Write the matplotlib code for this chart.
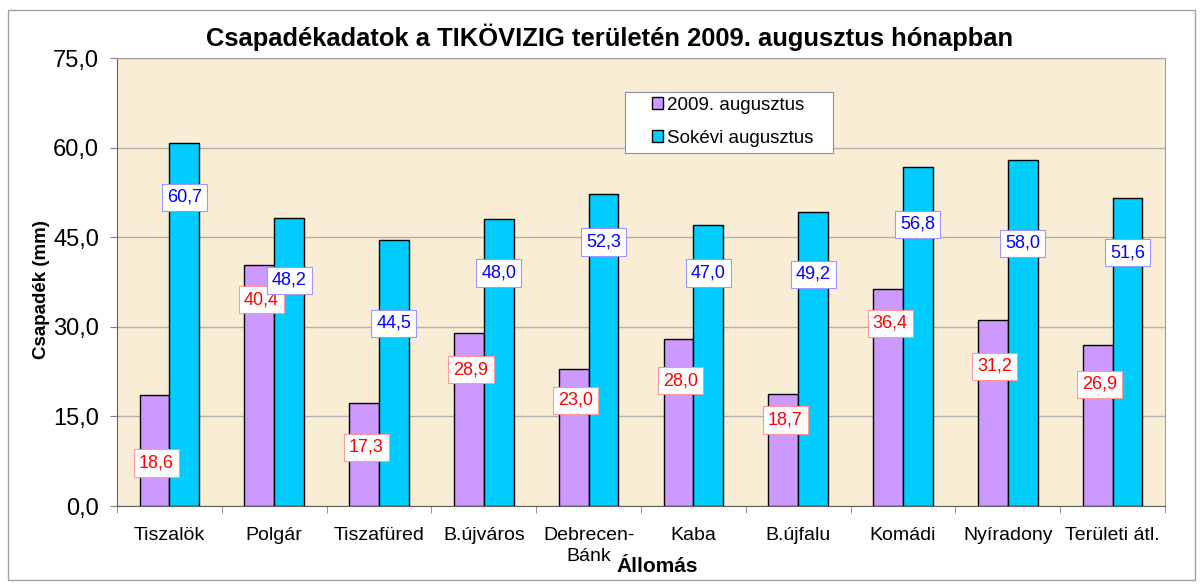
import matplotlib.pyplot as plt
import numpy as np
from matplotlib.patches import Rectangle

plt.rcParams['font.family'] = ['Liberation Sans', 'DejaVu Sans']

stations = ['Tiszalök', 'Polgár', 'Tiszafüred', 'B.újváros', 'Debrecen-\nBánk',
            'Kaba', 'B.újfalu', 'Komádi', 'Nyíradony', 'Területi átl.']
aug_2009 = [18.6, 40.4, 17.3, 28.9, 23.0, 28.0, 18.7, 36.4, 31.2, 26.9]
aug_longterm = [60.7, 48.2, 44.5, 48.0, 52.3, 47.0, 49.2, 56.8, 58.0, 51.6]

# label heights (data units) as placed in the original chart
lbl_y_2009 = [7.2, 34.5, 9.8, 22.8, 17.7, 21.0, 14.4, 30.6, 23.4, 20.4]
lbl_y_long = [51.7, 37.8, 30.6, 39.0, 44.2, 39.0, 38.8, 47.2, 44.0, 42.4]

fig = plt.figure(figsize=(12.03, 5.84), dpi=100)
fig.patches.append(Rectangle((8 / 1203, 4 / 584), 1187 / 1203, 570 / 584,
                             transform=fig.transFigure, fill=False,
                             edgecolor='#a0a0a0', linewidth=1))
ax = fig.add_axes([117 / 1203, 78 / 584, 1048 / 1203, 448 / 584])
ax.set_facecolor('#faedd6')

x = np.arange(len(stations))
w = 0.285
ax.bar(x - w / 2, aug_2009, w, color='#cc99ff', edgecolor='black',
       linewidth=1, label='2009. augusztus', zorder=3)
ax.bar(x + w / 2, aug_longterm, w, color='#00ccff', edgecolor='black',
       linewidth=1, label='Sokévi augusztus', zorder=3)

for i in range(len(stations)):
    ax.text(x[i] - w / 2 + 0.02, lbl_y_2009[i], f'{aug_2009[i]:.1f}'.replace('.', ','),
            ha='center', va='center', fontsize=13, color='#ff0000', zorder=5,
            bbox=dict(boxstyle='square,pad=0.28', fc='white', ec='#ff9999', lw=0.8))
    ax.text(x[i] + w / 2, lbl_y_long[i], f'{aug_longterm[i]:.1f}'.replace('.', ','),
            ha='center', va='center', fontsize=13, color='#0000ff', zorder=5,
            bbox=dict(boxstyle='square,pad=0.28', fc='white', ec='#9999ff', lw=0.8))

ax.set_xlim(-0.5, len(stations) - 0.5)
ax.set_ylim(0, 75)
ax.set_yticks(np.arange(0, 76, 15))
ax.set_yticklabels([f'{v:.1f}'.replace('.', ',') for v in np.arange(0, 76, 15)],
                   fontsize=17)
ax.yaxis.grid(True, color='#b0b0b0', linewidth=1, zorder=0)
ax.set_axisbelow(True)

ax.set_xticks(x)
ax.set_xticklabels(stations, fontsize=14, linespacing=1.3)
ax.tick_params(axis='x', length=0, pad=15)
ax.set_xticks(np.arange(-0.5, len(stations)), minor=True)
ax.tick_params(axis='x', which='minor', length=5, color='#808080')
ax.tick_params(axis='y', length=5, color='#808080', pad=8)

for s in ['top', 'right']:
    ax.spines[s].set_color('#a0a0a0')
ax.spines['left'].set_color('#606060')
ax.spines['bottom'].set_color('#606060')

fig.text(41 / 1203, 1 - 290 / 584, 'Csapadék (mm)', rotation=90, ha='center',
         va='center', fontsize=13.5, fontweight='bold')
fig.text(657 / 1203, 1 - 567 / 584, 'Állomás', ha='center', va='center',
         fontsize=15, fontweight='bold')
fig.text(610 / 1203, 1 - 37 / 584, 'Csapadékadatok a TIKÖVIZIG területén 2009. augusztus hónapban',
         ha='center', va='center', fontsize=18.4, fontweight='bold')

# legend: frame drawn as a separate box like in the original
ax.add_patch(Rectangle((625 / 1203, 1 - 153 / 584), 208 / 1203, 61 / 584,
                       transform=fig.transFigure, facecolor='white',
                       edgecolor='#909090', linewidth=0.8, zorder=6))
leg = ax.legend(loc='upper left', bbox_to_anchor=((652 - 117) / 1048, 1 - (97 - 58) / 448),
                fontsize=13.5, frameon=False,
                handlelength=0.6, handleheight=0.6, handletextpad=0.2,
                labelspacing=0.85, borderpad=0, borderaxespad=0)
leg.set_zorder(7)

fig.savefig('out.png', dpi=100)
